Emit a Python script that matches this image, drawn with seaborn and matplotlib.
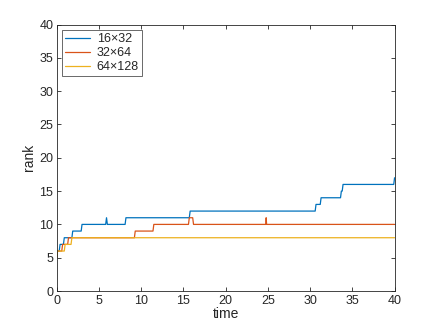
import numpy as np
import pandas as pd
import matplotlib
matplotlib.use("Agg")
import matplotlib.pyplot as plt
import seaborn as sns

# Data
t_16 = [0, 0.1, 0.3, 0.4, 0.8, 0.9, 1.8, 1.9, 2.9, 3.0, 5.8, 5.9, 6.0, 8.1, 8.2,
        15.7, 15.8, 30.6, 30.7, 31.2, 31.3, 33.6, 33.7, 33.8, 33.9, 39.9, 40]
r_16 = [5, 6, 6, 7, 7, 8, 8, 9, 9, 10, 10, 11, 10, 10, 11,
        11, 12, 12, 13, 13, 14, 14, 15, 15, 16, 16, 17]
t_32 = [0, 0.1, 0.6, 0.7, 1.3, 1.4, 9.2, 9.3, 11.4, 11.5, 15.6, 15.7, 16.1, 16.2,
        24.75, 24.8, 24.85, 40]
r_32 = [5, 6, 6, 7, 7, 8, 8, 9, 9, 10, 10, 11, 11, 10, 10, 11, 10, 10]
t_64 = [0, 0.1, 0.9, 1.0, 1.7, 1.8, 40]
r_64 = [5, 6, 6, 7, 7, 8, 8]
labels = ["16\u00d732", "32\u00d764", "64\u00d7128"]
colors = ["#0072BD", "#D95319", "#EDB120"]

df = pd.concat([
    pd.DataFrame({"time": t, "rank": r, "grid": lab})
    for t, r, lab in zip([t_16, t_32, t_64], [r_16, r_32, r_64], labels)
], ignore_index=True)

sns.set_style("ticks")
plt.rcParams["font.family"] = ["Liberation Sans", "DejaVu Sans"]
plt.rcParams["font.size"] = 9

fig = plt.figure(figsize=(4.36, 3.27), dpi=100)
ax = fig.add_axes([0.13, 0.11, 0.775, 0.815])
sns.lineplot(data=df, x="time", y="rank", hue="grid", palette=colors,
             sort=False, estimator=None, linewidth=0.9, ax=ax)

ax.set_xlim(0, 40)
ax.set_ylim(0, 40)
ax.set_xticks(np.arange(0, 41, 5))
ax.set_yticks(np.arange(0, 41, 5))
ax.set_xlabel("time", fontsize=10, labelpad=0)
ax.set_ylabel("rank", fontsize=10, labelpad=2)
edge = "#262626"
for s in ax.spines.values():
    s.set_visible(True)
    s.set_color(edge)
    s.set_linewidth(0.6)
ax.tick_params(direction="in", length=3, width=0.6, colors=edge,
               top=True, right=True, labelsize=9, pad=2.5)

leg = ax.legend(loc="upper left", frameon=True, fancybox=False,
                fontsize=9, handlelength=2.0, borderaxespad=0.45,
                labelspacing=0.15, handletextpad=0.5, borderpad=0.25)
leg.get_frame().set_edgecolor(edge)
leg.get_frame().set_linewidth(0.6)
leg.set_title(None)

fig.savefig("out.png", dpi=100, facecolor="white")
